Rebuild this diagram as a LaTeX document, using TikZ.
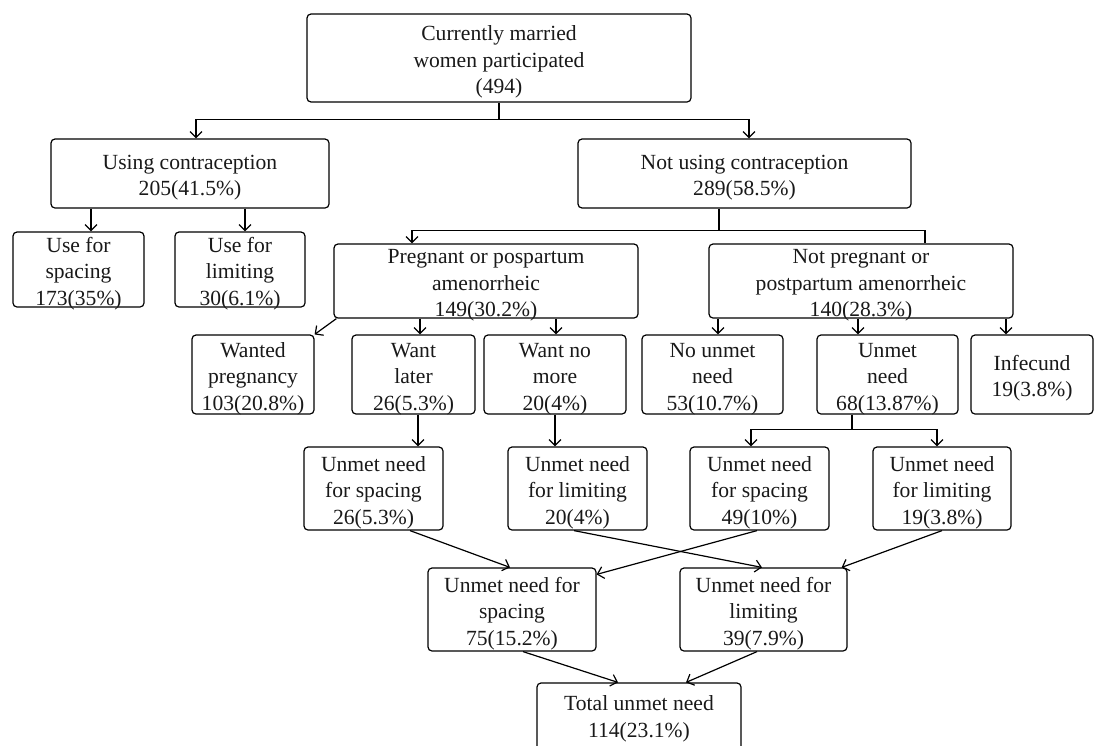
\documentclass[tikz,border=0pt]{standalone}
\usepackage{fontspec}
\setmainfont{Liberation Serif}
\usetikzlibrary{arrows.meta}
\newcommand{\topstrut}{\rule{0pt}{23pt}}
\begin{document}
\begin{tikzpicture}[x=1pt,y=-1pt,
  box/.style={draw, line width=1.2pt, rounded corners=4pt, align=center, inner xsep=0pt, inner ysep=-8pt,
    font=\fontsize{21.6}{26.5}\selectfont, text=black!90},
  conn/.style={line width=1.2pt},
  arr/.style={conn, -{Straight Barb[length=6pt,width=12pt]}}]
\useasboundingbox (0,0) rectangle (1099,745);
\fill[white] (0,0) rectangle (1099,745);
% nodes
\node[box, minimum width=384pt, minimum height=88pt] (top) at (499,58) {\topstrut Currently married\\women participated\\(494)};
\node[box, minimum width=278pt, minimum height=69pt] (using) at (190,173.5) {\topstrut Using contraception\\205(41.5\%)};
\node[box, minimum width=333pt, minimum height=69pt] (notusing) at (744.5,173.5) {\topstrut Not using contraception\\289(58.5\%)};
\node[box, minimum width=131pt, minimum height=75pt] (usesp) at (78.5,269.5) {\topstrut Use for\\spacing\\173(35\%)};
\node[box, minimum width=130pt, minimum height=75pt] (uselim) at (240,269.5) {\topstrut Use for\\limiting\\30(6.1\%)};
\node[box, minimum width=304pt, minimum height=74pt] (preg) at (486,281) {\topstrut Pregnant or pospartum\\amenorrheic\\149(30.2\%)};
\node[box, minimum width=304pt, minimum height=74pt] (notpreg) at (861,281) {\topstrut Not pregnant or\\postpartum amenorrheic\\140(28.3\%)};
\node[box, minimum width=122pt, minimum height=79pt] (wanted) at (253,374.5) {\topstrut Wanted\\pregnancy\\103(20.8\%)};
\node[box, minimum width=123pt, minimum height=79pt] (later) at (413.5,374.5) {\topstrut Want\\later\\26(5.3\%)};
\node[box, minimum width=142pt, minimum height=79pt] (nomore) at (555,374.5) {\topstrut Want no\\more\\20(4\%)};
\node[box, minimum width=141pt, minimum height=79pt] (nounmet) at (712.5,374.5) {\topstrut No unmet\\need\\53(10.7\%)};
\node[box, minimum width=141pt, minimum height=79pt] (unmet) at (887.5,374.5) {\topstrut Unmet\\need\\68(13.87\%)};
\node[box, minimum width=122pt, minimum height=79pt] (infec) at (1032,374.5) {\topstrut Infecund\\19(3.8\%)};
\node[box, minimum width=139pt, minimum height=83pt] (lsp) at (373.5,488.5) {\topstrut Unmet need\\for spacing\\26(5.3\%)};
\node[box, minimum width=139pt, minimum height=83pt] (mlim) at (577.5,488.5) {\topstrut Unmet need\\for limiting\\20(4\%)};
\node[box, minimum width=139pt, minimum height=83pt] (rsp) at (759.5,488.5) {\topstrut Unmet need\\for spacing\\49(10\%)};
\node[box, minimum width=138pt, minimum height=83pt] (rlim) at (942,488.5) {\topstrut Unmet need\\for limiting\\19(3.8\%)};
\node[box, minimum width=168pt, minimum height=83pt] (tsp) at (512,609.5) {\topstrut Unmet need for\\spacing\\75(15.2\%)};
\node[box, minimum width=167pt, minimum height=83pt] (tlim) at (763.5,609.5) {\topstrut Unmet need for\\limiting\\39(7.9\%)};
\node[box, minimum width=204pt, minimum height=85pt] (total) at (639,725.5) {\topstrut Total unmet need\\114(23.1\%)\\\mbox{}};
% connectors
\draw[conn] (top.south) -- ++(0,17) coordinate (j1);
\draw[arr] (j1) -| ([xshift=6pt]using.north);
\draw[arr] (j1) -| ([xshift=4.5pt]notusing.north);
\draw[arr] ([xshift=12.5pt]usesp.north |- using.south) -- ([xshift=12.5pt]usesp.north);
\draw[arr] ([xshift=5pt]uselim.north |- using.south) -- ([xshift=5pt]uselim.north);
\draw[conn] ([xshift=-25.5pt]notusing.south) -- ++(0,22) coordinate (j2);
\draw[arr] (j2) -| ([xshift=-74pt]preg.north);
\draw[conn] (j2) -| ([xshift=64pt]notpreg.north);
\draw[arr] ([xshift=3pt]preg.south west) -- (wanted.north east);
\draw[arr] ([xshift=6.5pt]later.north |- preg.south) -- ([xshift=6.5pt]later.north);
\draw[arr] ([xshift=1pt]nomore.north |- preg.south) -- ([xshift=1pt]nomore.north);
\draw[arr] ([xshift=5.5pt]nounmet.north |- notpreg.south) -- ([xshift=5.5pt]nounmet.north);
\draw[arr] ([xshift=-29.5pt]unmet.north |- notpreg.south) -- ([xshift=-29.5pt]unmet.north);
\draw[arr] ([xshift=-26pt]infec.north |- notpreg.south) -- ([xshift=-26pt]infec.north);
\draw[arr] ([xshift=4.5pt]later.south) -- ([xshift=4.5pt]later.south |- lsp.north);
\draw[arr] (nomore.south) -- (nomore.south |- mlim.north);
\draw[conn] ([xshift=-35.5pt]unmet.south) -- ++(0,15) coordinate (j3);
\draw[arr] (j3) -| ([xshift=-8.5pt]rsp.north);
\draw[arr] (j3) -| ([xshift=-5pt]rlim.north);
\draw[arr] ([xshift=36.5pt]lsp.south) -- ([xshift=-2pt]tsp.north);
\draw[arr] ([xshift=-3.5pt]mlim.south) -- ([xshift=-1.5pt]tlim.north);
\draw[arr] ([xshift=-2.5pt]rsp.south) -- ([yshift=-7pt]tsp.north east);
\draw[arr] (rlim.south) -- ([xshift=-6pt]tlim.north east);
\draw[arr] ([xshift=11pt]tsp.south) -- ([xshift=-21pt]total.north);
\draw[arr] ([xshift=-6.5pt]tlim.south) -- ([xshift=47pt]total.north);
\end{tikzpicture}
\end{document}
